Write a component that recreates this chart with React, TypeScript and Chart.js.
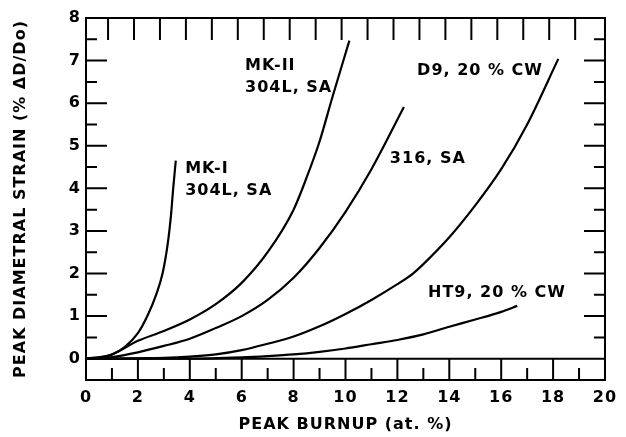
import React, { useEffect, useRef } from 'react';
import { Chart, registerables } from 'chart.js';

Chart.register(...registerables);

// Peak burnup (at. %) and peak diametral strain (% ΔD/Do) for each cladding
const mk1Burnup = [0, 0.5, 1, 1.5, 2, 2.4, 2.7, 2.95, 3.15, 3.28, 3.36, 3.46];
const mk1Strain = [0, 0.02, 0.1, 0.28, 0.6, 1.05, 1.5, 2.0, 2.7, 3.4, 4.0, 4.65];

const mk2Burnup = [0, 1, 2, 3, 4, 5, 6, 7, 8, 8.5, 9, 9.5, 10.15];
const mk2Strain = [0, 0.1, 0.42, 0.65, 0.92, 1.28, 1.78, 2.5, 3.5, 4.25, 5.1, 6.15, 7.47];

const s316Burnup = [0, 1, 2, 3, 4, 5, 6, 7, 8, 9, 10, 11, 12.25];
const s316Strain = [0, 0.04, 0.15, 0.3, 0.47, 0.72, 1.0, 1.38, 1.9, 2.6, 3.45, 4.45, 5.91];

const d9Burnup = [0, 1, 2, 3, 4, 5, 6, 7, 8, 9, 10, 11, 12, 12.6, 13, 14, 15, 16, 17, 18.2];
const d9Strain = [0, 0, 0.01, 0.02, 0.05, 0.1, 0.2, 0.35, 0.52, 0.76, 1.05, 1.38, 1.75, 2.0, 2.22, 2.85, 3.6, 4.45, 5.5, 7.04];

const ht9Burnup = [0, 4, 6, 7, 8, 9, 10, 11, 12, 13, 14, 15, 16, 16.62];
const ht9Strain = [0, 0, 0.03, 0.06, 0.1, 0.16, 0.24, 0.34, 0.44, 0.57, 0.75, 0.92, 1.1, 1.24];

const seriesNames = ['MK-I 304L, SA', 'MK-II 304L, SA', '316, SA', 'D9, 20 % CW', 'HT9, 20 % CW'];

const xTickLabels = [0, 2, 4, 6, 8, 10, 12, 14, 16, 18, 20];
const yTickLabels = [0, 1, 2, 3, 4, 5, 6, 7, 8];

const xTitle = 'PEAK BURNUP (at. %)';
const yTitle = 'PEAK DIAMETRAL STRAIN (% \u0394D/Do)';

// Curve labels, anchored in data coordinates (left edge, text baseline)
const curveLabels = [
  { text: 'MK-I', x: 3.82, y: 4.37 },
  { text: '304L, SA', x: 3.82, y: 3.85 },
  { text: 'MK-II', x: 6.13, y: 6.78 },
  { text: '304L, SA', x: 6.13, y: 6.27 },
  { text: 'D9, 20 % CW', x: 12.76, y: 6.67 },
  { text: '316, SA', x: 11.71, y: 4.6 },
  { text: 'HT9, 20 % CW', x: 13.18, y: 1.46 },
];

const FONT = '"DejaVu Sans", sans-serif';
const INK = '#000';
const SPACING = '1px';

const toPoints = (xs: number[], ys: number[]) => xs.map((x, i) => ({ x, y: ys[i] }));

const framePlugin = {
  id: 'frame',
  beforeUpdate(chart: any) {
    chart.ctx.letterSpacing = SPACING;
  },
  beforeDraw(chart: any) {
    const ctx = chart.ctx;
    ctx.letterSpacing = SPACING;
    ctx.save();
    ctx.fillStyle = '#fff';
    ctx.fillRect(0, 0, chart.width, chart.height);
    ctx.restore();
  },
  afterDatasetsDraw(chart: any) {
    const ctx = chart.ctx;
    const xs = chart.scales.x;
    const ys = chart.scales.y;
    const { left, right, top, bottom } = chart.chartArea;
    ctx.save();
    ctx.strokeStyle = INK;
    ctx.lineWidth = 2;
    ctx.lineCap = 'square';
    ctx.beginPath();
    ctx.rect(left, top, right - left, bottom - top);
    // zero line
    const y0 = ys.getPixelForValue(0);
    ctx.moveTo(left, y0);
    ctx.lineTo(right, y0);
    // bottom ticks
    for (let v = 1; v < 20; v++) {
      const px = xs.getPixelForValue(v);
      ctx.moveTo(px, bottom);
      ctx.lineTo(px, v % 2 === 0 ? y0 : bottom - 11);
    }
    // top ticks
    for (let v = 0; v < 19; v++) {
      const px = xs.getPixelForValue(v + 0.85);
      ctx.moveTo(px, top);
      ctx.lineTo(px, top + 21);
    }
    // left & right ticks
    for (let v = 0.5; v < 8; v += 0.5) {
      const py = ys.getPixelForValue(v);
      const len = Number.isInteger(v) ? 20 : 10;
      ctx.moveTo(left, py);
      ctx.lineTo(left + len, py);
      ctx.moveTo(right, py);
      ctx.lineTo(right - len, py);
    }
    ctx.stroke();

    ctx.fillStyle = INK;
    ctx.font = `bold 16px ${FONT}`;
    ctx.letterSpacing = SPACING;
    ctx.textAlign = 'left';
    ctx.textBaseline = 'alphabetic';
    for (const l of curveLabels) {
      ctx.fillText(l.text, xs.getPixelForValue(l.x), ys.getPixelForValue(l.y));
    }
    ctx.restore();
  },
};

export default function App() {
  const ref = useRef<HTMLCanvasElement | null>(null);

  useEffect(() => {
    if (!ref.current) return;
    const series = [
      toPoints(mk1Burnup, mk1Strain),
      toPoints(mk2Burnup, mk2Strain),
      toPoints(s316Burnup, s316Strain),
      toPoints(d9Burnup, d9Strain),
      toPoints(ht9Burnup, ht9Strain),
    ];
    const font = { family: FONT, size: 16, weight: 'bold' as const };
    const chart = new Chart(ref.current, {
      type: 'scatter',
      data: {
        datasets: series.map((data, i) => ({
          label: seriesNames[i],
          data,
          showLine: true,
          borderColor: INK,
          backgroundColor: INK,
          borderWidth: 2.2,
          pointRadius: 0,
          cubicInterpolationMode: 'monotone' as const,
        })),
      },
      options: {
        responsive: false,
        animation: false,
        devicePixelRatio: 1,
        layout: { padding: { left: 0, top: 18, right: 21, bottom: 0 } },
        plugins: { legend: { display: false }, tooltip: { enabled: false } },
        scales: {
          x: {
            type: 'linear',
            min: 0,
            max: 20,
            ticks: {
              stepSize: 2,
              color: INK,
              padding: 8,
              maxRotation: 0,
              font,
              callback: (v: any) => (xTickLabels.includes(v) ? String(v) : ''),
            },
            grid: { display: false, drawTicks: false },
            border: { display: false },
            title: {
              display: true,
              text: xTitle,
              color: INK,
              font,
              padding: { top: 0, bottom: 3 },
            },
            afterFit: (s: any) => {
              s.height = 57;
            },
          },
          y: {
            type: 'linear',
            min: -0.5,
            max: 8,
            ticks: {
              stepSize: 1,
              color: INK,
              padding: 5,
              font,
              callback: (v: any) => (yTickLabels.includes(v) ? String(v) : ''),
            },
            grid: { display: false, drawTicks: false },
            border: { display: false },
            title: {
              display: true,
              text: yTitle,
              color: INK,
              font,
              padding: { top: 11, bottom: 0 },
            },
            afterFit: (s: any) => {
              s.width = 86;
            },
          },
        },
      },
      plugins: [framePlugin],
    });
    return () => chart.destroy();
  }, []);

  return (
    <div style={{ position: 'absolute', left: 0, top: 0, width: 626, height: 437, background: '#fff' }}>
      <canvas ref={ref} width={626} height={437} style={{ display: 'block' }} />
    </div>
  );
}
